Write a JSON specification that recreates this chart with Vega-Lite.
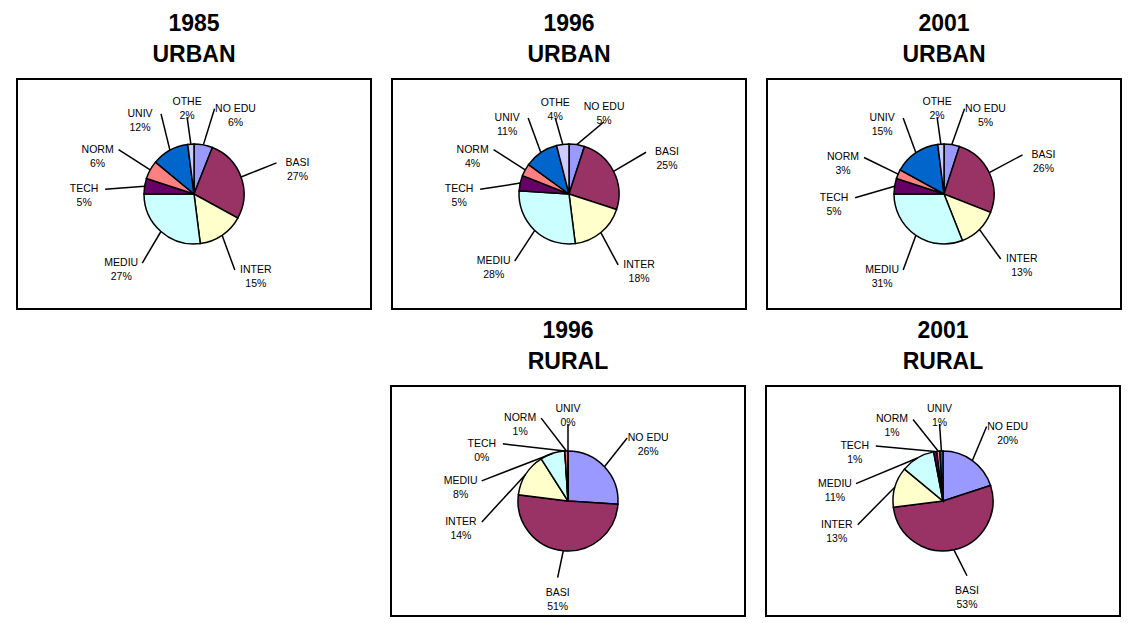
{
  "$schema": "https://vega.github.io/schema/vega-lite/v6.json",
  "background": "#ffffff",
  "padding": {"left": 16, "top": 12, "right": 0, "bottom": 0},
  "config": {
    "view": {"stroke": "#000000", "strokeWidth": 2},
    "title": {"font": "Liberation Sans", "fontSize": 23, "fontWeight": "bold", "lineHeight": 31, "offset": 12, "color": "#000000", "anchor": "middle"}
  },
  "datasets": {
    "edu": [
      {"panel": "1985 URBAN", "cat": "NO EDU", "ord": 0, "pct": 6},
      {"panel": "1985 URBAN", "cat": "BASI", "ord": 1, "pct": 27},
      {"panel": "1985 URBAN", "cat": "INTER", "ord": 2, "pct": 15},
      {"panel": "1985 URBAN", "cat": "MEDIU", "ord": 3, "pct": 27},
      {"panel": "1985 URBAN", "cat": "TECH", "ord": 4, "pct": 5},
      {"panel": "1985 URBAN", "cat": "NORM", "ord": 5, "pct": 6},
      {"panel": "1985 URBAN", "cat": "UNIV", "ord": 6, "pct": 12},
      {"panel": "1985 URBAN", "cat": "OTHE", "ord": 7, "pct": 2},
      {"panel": "1996 URBAN", "cat": "NO EDU", "ord": 0, "pct": 5},
      {"panel": "1996 URBAN", "cat": "BASI", "ord": 1, "pct": 25},
      {"panel": "1996 URBAN", "cat": "INTER", "ord": 2, "pct": 18},
      {"panel": "1996 URBAN", "cat": "MEDIU", "ord": 3, "pct": 28},
      {"panel": "1996 URBAN", "cat": "TECH", "ord": 4, "pct": 5},
      {"panel": "1996 URBAN", "cat": "NORM", "ord": 5, "pct": 4},
      {"panel": "1996 URBAN", "cat": "UNIV", "ord": 6, "pct": 11},
      {"panel": "1996 URBAN", "cat": "OTHE", "ord": 7, "pct": 4},
      {"panel": "2001 URBAN", "cat": "NO EDU", "ord": 0, "pct": 5},
      {"panel": "2001 URBAN", "cat": "BASI", "ord": 1, "pct": 26},
      {"panel": "2001 URBAN", "cat": "INTER", "ord": 2, "pct": 13},
      {"panel": "2001 URBAN", "cat": "MEDIU", "ord": 3, "pct": 31},
      {"panel": "2001 URBAN", "cat": "TECH", "ord": 4, "pct": 5},
      {"panel": "2001 URBAN", "cat": "NORM", "ord": 5, "pct": 3},
      {"panel": "2001 URBAN", "cat": "UNIV", "ord": 6, "pct": 15},
      {"panel": "2001 URBAN", "cat": "OTHE", "ord": 7, "pct": 2},
      {"panel": "1996 RURAL", "cat": "NO EDU", "ord": 0, "pct": 26},
      {"panel": "1996 RURAL", "cat": "BASI", "ord": 1, "pct": 51},
      {"panel": "1996 RURAL", "cat": "INTER", "ord": 2, "pct": 14},
      {"panel": "1996 RURAL", "cat": "MEDIU", "ord": 3, "pct": 8},
      {"panel": "1996 RURAL", "cat": "TECH", "ord": 4, "pct": 0},
      {"panel": "1996 RURAL", "cat": "NORM", "ord": 5, "pct": 1},
      {"panel": "1996 RURAL", "cat": "UNIV", "ord": 6, "pct": 0},
      {"panel": "2001 RURAL", "cat": "NO EDU", "ord": 0, "pct": 20},
      {"panel": "2001 RURAL", "cat": "BASI", "ord": 1, "pct": 53},
      {"panel": "2001 RURAL", "cat": "INTER", "ord": 2, "pct": 13},
      {"panel": "2001 RURAL", "cat": "MEDIU", "ord": 3, "pct": 11},
      {"panel": "2001 RURAL", "cat": "TECH", "ord": 4, "pct": 1},
      {"panel": "2001 RURAL", "cat": "NORM", "ord": 5, "pct": 1},
      {"panel": "2001 RURAL", "cat": "UNIV", "ord": 6, "pct": 1}
    ]
  },
  "vconcat": [
    {
      "spacing": 19,
      "hconcat": [
        {
          "width": 354, "height": 230,
          "title": {"text": ["1985", "URBAN"]},
          "data": {"name": "edu"},
          "transform": [
            {"filter": "datum.panel === '1985 URBAN'"},
            {"joinaggregate": [{"op": "sum", "field": "pct", "as": "tot"}]},
            {"window": [{"op": "sum", "field": "pct", "as": "cum"}], "sort": [{"field": "ord", "order": "ascending"}], "frame": [null, 0]},
            {"calculate": "(datum.cum - datum.pct / 2) / datum.tot * 2 * PI", "as": "mid"},
            {"calculate": "datum.mid - datum.ord * 0.45", "as": "t"},
            {"window": [{"op": "min", "field": "t", "as": "tmin"}], "sort": [{"field": "ord", "order": "ascending"}], "frame": [0, null]},
            {"calculate": "datum.tmin + datum.ord * 0.45", "as": "ang0"},
            {"joinaggregate": [{"op": "max", "field": "ang0", "as": "alast"}]},
            {"calculate": "datum.ang0 - datum.ord * 0.45", "as": "u"},
            {"window": [{"op": "max", "field": "u", "as": "umax"}], "sort": [{"field": "ord", "order": "ascending"}], "frame": [null, 0]},
            {"calculate": "max(datum.umax + datum.ord * 0.45, datum.alast - 2 * PI + (datum.ord + 1) * 0.45)", "as": "ang"},
            {"calculate": "110 * sin(datum.ang)", "as": "lx"},
            {"calculate": "92 * cos(datum.ang)", "as": "ly"},
            {"calculate": "50 * sin(datum.mid)", "as": "ex"},
            {"calculate": "50 * cos(datum.mid)", "as": "ey"},
            {"calculate": "abs(sin(datum.ang)) < 0.35 ? datum.lx : datum.lx - (sin(datum.ang) > 0 ? 21 : -21)", "as": "tx"},
            {"calculate": "abs(sin(datum.ang)) < 0.35 ? datum.ly - (cos(datum.ang) > 0 ? 15 : -15) : datum.ly", "as": "ty"},
            {"calculate": "datum.cat + '\\n' + datum.pct + '%'", "as": "lab"}
          ],
          "layer": [
            {
              "mark": {"type": "arc", "outerRadius": 50, "stroke": "#000000", "strokeWidth": 1.5},
              "encoding": {
                "theta": {"field": "pct", "type": "quantitative"},
                "order": {"field": "ord", "type": "quantitative"},
                "color": {"field": "cat", "type": "nominal", "legend": null, "scale": {"domain": ["NO EDU", "BASI", "INTER", "MEDIU", "TECH", "NORM", "UNIV", "OTHE"], "range": ["#9999FF", "#993366", "#FFFFCC", "#CCFFFF", "#660066", "#FF8080", "#0066CC", "#CCCCFF"]}}
              }
            },
            {
              "mark": {"type": "rule", "stroke": "#000000", "strokeWidth": 1.5},
              "encoding": {
                "x": {"field": "ex", "type": "quantitative", "axis": null, "scale": {"domain": [-177, 177], "nice": false, "zero": false}},
                "y": {"field": "ey", "type": "quantitative", "axis": null, "scale": {"domain": [-115, 115], "nice": false, "zero": false}},
                "x2": {"field": "tx"},
                "y2": {"field": "ty"}
              }
            },
            {
              "mark": {"type": "text", "font": "Liberation Sans", "fontSize": 10.5, "lineHeight": 14, "lineBreak": "\n", "align": "center", "baseline": "middle", "color": "#000000"},
              "encoding": {
                "x": {"field": "lx", "type": "quantitative", "axis": null, "scale": {"domain": [-177, 177], "nice": false, "zero": false}},
                "y": {"field": "ly", "type": "quantitative", "axis": null, "scale": {"domain": [-115, 115], "nice": false, "zero": false}},
                "text": {"field": "lab", "type": "nominal"}
              }
            }
          ]
        },
        {
          "width": 354, "height": 230,
          "title": {"text": ["1996", "URBAN"]},
          "data": {"name": "edu"},
          "transform": [
            {"filter": "datum.panel === '1996 URBAN'"},
            {"joinaggregate": [{"op": "sum", "field": "pct", "as": "tot"}]},
            {"window": [{"op": "sum", "field": "pct", "as": "cum"}], "sort": [{"field": "ord", "order": "ascending"}], "frame": [null, 0]},
            {"calculate": "(datum.cum - datum.pct / 2) / datum.tot * 2 * PI", "as": "mid"},
            {"calculate": "datum.mid - datum.ord * 0.45", "as": "t"},
            {"window": [{"op": "min", "field": "t", "as": "tmin"}], "sort": [{"field": "ord", "order": "ascending"}], "frame": [0, null]},
            {"calculate": "datum.tmin + datum.ord * 0.45", "as": "ang0"},
            {"joinaggregate": [{"op": "max", "field": "ang0", "as": "alast"}]},
            {"calculate": "datum.ang0 - datum.ord * 0.45", "as": "u"},
            {"window": [{"op": "max", "field": "u", "as": "umax"}], "sort": [{"field": "ord", "order": "ascending"}], "frame": [null, 0]},
            {"calculate": "max(datum.umax + datum.ord * 0.45, datum.alast - 2 * PI + (datum.ord + 1) * 0.45)", "as": "ang"},
            {"calculate": "110 * sin(datum.ang)", "as": "lx"},
            {"calculate": "92 * cos(datum.ang)", "as": "ly"},
            {"calculate": "50 * sin(datum.mid)", "as": "ex"},
            {"calculate": "50 * cos(datum.mid)", "as": "ey"},
            {"calculate": "abs(sin(datum.ang)) < 0.35 ? datum.lx : datum.lx - (sin(datum.ang) > 0 ? 21 : -21)", "as": "tx"},
            {"calculate": "abs(sin(datum.ang)) < 0.35 ? datum.ly - (cos(datum.ang) > 0 ? 15 : -15) : datum.ly", "as": "ty"},
            {"calculate": "datum.cat + '\\n' + datum.pct + '%'", "as": "lab"}
          ],
          "layer": [
            {
              "mark": {"type": "arc", "outerRadius": 50, "stroke": "#000000", "strokeWidth": 1.5},
              "encoding": {
                "theta": {"field": "pct", "type": "quantitative"},
                "order": {"field": "ord", "type": "quantitative"},
                "color": {"field": "cat", "type": "nominal", "legend": null, "scale": {"domain": ["NO EDU", "BASI", "INTER", "MEDIU", "TECH", "NORM", "UNIV", "OTHE"], "range": ["#9999FF", "#993366", "#FFFFCC", "#CCFFFF", "#660066", "#FF8080", "#0066CC", "#CCCCFF"]}}
              }
            },
            {
              "mark": {"type": "rule", "stroke": "#000000", "strokeWidth": 1.5},
              "encoding": {
                "x": {"field": "ex", "type": "quantitative", "axis": null, "scale": {"domain": [-177, 177], "nice": false, "zero": false}},
                "y": {"field": "ey", "type": "quantitative", "axis": null, "scale": {"domain": [-115, 115], "nice": false, "zero": false}},
                "x2": {"field": "tx"},
                "y2": {"field": "ty"}
              }
            },
            {
              "mark": {"type": "text", "font": "Liberation Sans", "fontSize": 10.5, "lineHeight": 14, "lineBreak": "\n", "align": "center", "baseline": "middle", "color": "#000000"},
              "encoding": {
                "x": {"field": "lx", "type": "quantitative", "axis": null, "scale": {"domain": [-177, 177], "nice": false, "zero": false}},
                "y": {"field": "ly", "type": "quantitative", "axis": null, "scale": {"domain": [-115, 115], "nice": false, "zero": false}},
                "text": {"field": "lab", "type": "nominal"}
              }
            }
          ]
        },
        {
          "width": 354, "height": 230,
          "title": {"text": ["2001", "URBAN"]},
          "data": {"name": "edu"},
          "transform": [
            {"filter": "datum.panel === '2001 URBAN'"},
            {"joinaggregate": [{"op": "sum", "field": "pct", "as": "tot"}]},
            {"window": [{"op": "sum", "field": "pct", "as": "cum"}], "sort": [{"field": "ord", "order": "ascending"}], "frame": [null, 0]},
            {"calculate": "(datum.cum - datum.pct / 2) / datum.tot * 2 * PI", "as": "mid"},
            {"calculate": "datum.mid - datum.ord * 0.45", "as": "t"},
            {"window": [{"op": "min", "field": "t", "as": "tmin"}], "sort": [{"field": "ord", "order": "ascending"}], "frame": [0, null]},
            {"calculate": "datum.tmin + datum.ord * 0.45", "as": "ang0"},
            {"joinaggregate": [{"op": "max", "field": "ang0", "as": "alast"}]},
            {"calculate": "datum.ang0 - datum.ord * 0.45", "as": "u"},
            {"window": [{"op": "max", "field": "u", "as": "umax"}], "sort": [{"field": "ord", "order": "ascending"}], "frame": [null, 0]},
            {"calculate": "max(datum.umax + datum.ord * 0.45, datum.alast - 2 * PI + (datum.ord + 1) * 0.45)", "as": "ang"},
            {"calculate": "110 * sin(datum.ang)", "as": "lx"},
            {"calculate": "92 * cos(datum.ang)", "as": "ly"},
            {"calculate": "50 * sin(datum.mid)", "as": "ex"},
            {"calculate": "50 * cos(datum.mid)", "as": "ey"},
            {"calculate": "abs(sin(datum.ang)) < 0.35 ? datum.lx : datum.lx - (sin(datum.ang) > 0 ? 21 : -21)", "as": "tx"},
            {"calculate": "abs(sin(datum.ang)) < 0.35 ? datum.ly - (cos(datum.ang) > 0 ? 15 : -15) : datum.ly", "as": "ty"},
            {"calculate": "datum.cat + '\\n' + datum.pct + '%'", "as": "lab"}
          ],
          "layer": [
            {
              "mark": {"type": "arc", "outerRadius": 50, "stroke": "#000000", "strokeWidth": 1.5},
              "encoding": {
                "theta": {"field": "pct", "type": "quantitative"},
                "order": {"field": "ord", "type": "quantitative"},
                "color": {"field": "cat", "type": "nominal", "legend": null, "scale": {"domain": ["NO EDU", "BASI", "INTER", "MEDIU", "TECH", "NORM", "UNIV", "OTHE"], "range": ["#9999FF", "#993366", "#FFFFCC", "#CCFFFF", "#660066", "#FF8080", "#0066CC", "#CCCCFF"]}}
              }
            },
            {
              "mark": {"type": "rule", "stroke": "#000000", "strokeWidth": 1.5},
              "encoding": {
                "x": {"field": "ex", "type": "quantitative", "axis": null, "scale": {"domain": [-177, 177], "nice": false, "zero": false}},
                "y": {"field": "ey", "type": "quantitative", "axis": null, "scale": {"domain": [-115, 115], "nice": false, "zero": false}},
                "x2": {"field": "tx"},
                "y2": {"field": "ty"}
              }
            },
            {
              "mark": {"type": "text", "font": "Liberation Sans", "fontSize": 10.5, "lineHeight": 14, "lineBreak": "\n", "align": "center", "baseline": "middle", "color": "#000000"},
              "encoding": {
                "x": {"field": "lx", "type": "quantitative", "axis": null, "scale": {"domain": [-177, 177], "nice": false, "zero": false}},
                "y": {"field": "ly", "type": "quantitative", "axis": null, "scale": {"domain": [-115, 115], "nice": false, "zero": false}},
                "text": {"field": "lab", "type": "nominal"}
              }
            }
          ]
        }
      ]
    },
    {
      "spacing": 19,
      "hconcat": [
        {
          "width": 354, "height": 230,
          "view": {"stroke": null},
          "data": {"values": [{"a": 0}]},
          "mark": {"type": "point", "opacity": 0},
          "encoding": {}
        },
        {
          "width": 354, "height": 230,
          "title": {"text": ["1996", "RURAL"]},
          "data": {"name": "edu"},
          "transform": [
            {"filter": "datum.panel === '1996 RURAL'"},
            {"joinaggregate": [{"op": "sum", "field": "pct", "as": "tot"}]},
            {"window": [{"op": "sum", "field": "pct", "as": "cum"}], "sort": [{"field": "ord", "order": "ascending"}], "frame": [null, 0]},
            {"calculate": "(datum.cum - datum.pct / 2) / datum.tot * 2 * PI", "as": "mid"},
            {"calculate": "datum.mid - datum.ord * 0.45", "as": "t"},
            {"window": [{"op": "min", "field": "t", "as": "tmin"}], "sort": [{"field": "ord", "order": "ascending"}], "frame": [0, null]},
            {"calculate": "datum.tmin + datum.ord * 0.45", "as": "ang0"},
            {"joinaggregate": [{"op": "max", "field": "ang0", "as": "alast"}]},
            {"calculate": "datum.ang0 - datum.ord * 0.45", "as": "u"},
            {"window": [{"op": "max", "field": "u", "as": "umax"}], "sort": [{"field": "ord", "order": "ascending"}], "frame": [null, 0]},
            {"calculate": "max(datum.umax + datum.ord * 0.45, datum.alast - 2 * PI + (datum.ord + 1) * 0.45)", "as": "ang"},
            {"calculate": "110 * sin(datum.ang)", "as": "lx"},
            {"calculate": "92 * cos(datum.ang)", "as": "ly"},
            {"calculate": "50 * sin(datum.mid)", "as": "ex"},
            {"calculate": "50 * cos(datum.mid)", "as": "ey"},
            {"calculate": "abs(sin(datum.ang)) < 0.35 ? datum.lx : datum.lx - (sin(datum.ang) > 0 ? 21 : -21)", "as": "tx"},
            {"calculate": "abs(sin(datum.ang)) < 0.35 ? datum.ly - (cos(datum.ang) > 0 ? 15 : -15) : datum.ly", "as": "ty"},
            {"calculate": "datum.cat + '\\n' + datum.pct + '%'", "as": "lab"}
          ],
          "layer": [
            {
              "mark": {"type": "arc", "outerRadius": 50, "stroke": "#000000", "strokeWidth": 1.5},
              "encoding": {
                "theta": {"field": "pct", "type": "quantitative"},
                "order": {"field": "ord", "type": "quantitative"},
                "color": {"field": "cat", "type": "nominal", "legend": null, "scale": {"domain": ["NO EDU", "BASI", "INTER", "MEDIU", "TECH", "NORM", "UNIV", "OTHE"], "range": ["#9999FF", "#993366", "#FFFFCC", "#CCFFFF", "#660066", "#FF8080", "#0066CC", "#CCCCFF"]}}
              }
            },
            {
              "mark": {"type": "rule", "stroke": "#000000", "strokeWidth": 1.5},
              "encoding": {
                "x": {"field": "ex", "type": "quantitative", "axis": null, "scale": {"domain": [-177, 177], "nice": false, "zero": false}},
                "y": {"field": "ey", "type": "quantitative", "axis": null, "scale": {"domain": [-115, 115], "nice": false, "zero": false}},
                "x2": {"field": "tx"},
                "y2": {"field": "ty"}
              }
            },
            {
              "mark": {"type": "text", "font": "Liberation Sans", "fontSize": 10.5, "lineHeight": 14, "lineBreak": "\n", "align": "center", "baseline": "middle", "color": "#000000"},
              "encoding": {
                "x": {"field": "lx", "type": "quantitative", "axis": null, "scale": {"domain": [-177, 177], "nice": false, "zero": false}},
                "y": {"field": "ly", "type": "quantitative", "axis": null, "scale": {"domain": [-115, 115], "nice": false, "zero": false}},
                "text": {"field": "lab", "type": "nominal"}
              }
            }
          ]
        },
        {
          "width": 354, "height": 230,
          "title": {"text": ["2001", "RURAL"]},
          "data": {"name": "edu"},
          "transform": [
            {"filter": "datum.panel === '2001 RURAL'"},
            {"joinaggregate": [{"op": "sum", "field": "pct", "as": "tot"}]},
            {"window": [{"op": "sum", "field": "pct", "as": "cum"}], "sort": [{"field": "ord", "order": "ascending"}], "frame": [null, 0]},
            {"calculate": "(datum.cum - datum.pct / 2) / datum.tot * 2 * PI", "as": "mid"},
            {"calculate": "datum.mid - datum.ord * 0.45", "as": "t"},
            {"window": [{"op": "min", "field": "t", "as": "tmin"}], "sort": [{"field": "ord", "order": "ascending"}], "frame": [0, null]},
            {"calculate": "datum.tmin + datum.ord * 0.45", "as": "ang0"},
            {"joinaggregate": [{"op": "max", "field": "ang0", "as": "alast"}]},
            {"calculate": "datum.ang0 - datum.ord * 0.45", "as": "u"},
            {"window": [{"op": "max", "field": "u", "as": "umax"}], "sort": [{"field": "ord", "order": "ascending"}], "frame": [null, 0]},
            {"calculate": "max(datum.umax + datum.ord * 0.45, datum.alast - 2 * PI + (datum.ord + 1) * 0.45)", "as": "ang"},
            {"calculate": "110 * sin(datum.ang)", "as": "lx"},
            {"calculate": "92 * cos(datum.ang)", "as": "ly"},
            {"calculate": "50 * sin(datum.mid)", "as": "ex"},
            {"calculate": "50 * cos(datum.mid)", "as": "ey"},
            {"calculate": "abs(sin(datum.ang)) < 0.35 ? datum.lx : datum.lx - (sin(datum.ang) > 0 ? 21 : -21)", "as": "tx"},
            {"calculate": "abs(sin(datum.ang)) < 0.35 ? datum.ly - (cos(datum.ang) > 0 ? 15 : -15) : datum.ly", "as": "ty"},
            {"calculate": "datum.cat + '\\n' + datum.pct + '%'", "as": "lab"}
          ],
          "layer": [
            {
              "mark": {"type": "arc", "outerRadius": 50, "stroke": "#000000", "strokeWidth": 1.5},
              "encoding": {
                "theta": {"field": "pct", "type": "quantitative"},
                "order": {"field": "ord", "type": "quantitative"},
                "color": {"field": "cat", "type": "nominal", "legend": null, "scale": {"domain": ["NO EDU", "BASI", "INTER", "MEDIU", "TECH", "NORM", "UNIV", "OTHE"], "range": ["#9999FF", "#993366", "#FFFFCC", "#CCFFFF", "#660066", "#FF8080", "#0066CC", "#CCCCFF"]}}
              }
            },
            {
              "mark": {"type": "rule", "stroke": "#000000", "strokeWidth": 1.5},
              "encoding": {
                "x": {"field": "ex", "type": "quantitative", "axis": null, "scale": {"domain": [-177, 177], "nice": false, "zero": false}},
                "y": {"field": "ey", "type": "quantitative", "axis": null, "scale": {"domain": [-115, 115], "nice": false, "zero": false}},
                "x2": {"field": "tx"},
                "y2": {"field": "ty"}
              }
            },
            {
              "mark": {"type": "text", "font": "Liberation Sans", "fontSize": 10.5, "lineHeight": 14, "lineBreak": "\n", "align": "center", "baseline": "middle", "color": "#000000"},
              "encoding": {
                "x": {"field": "lx", "type": "quantitative", "axis": null, "scale": {"domain": [-177, 177], "nice": false, "zero": false}},
                "y": {"field": "ly", "type": "quantitative", "axis": null, "scale": {"domain": [-115, 115], "nice": false, "zero": false}},
                "text": {"field": "lab", "type": "nominal"}
              }
            }
          ]
        }
      ]
    }
  ],
  "spacing": 9
}
